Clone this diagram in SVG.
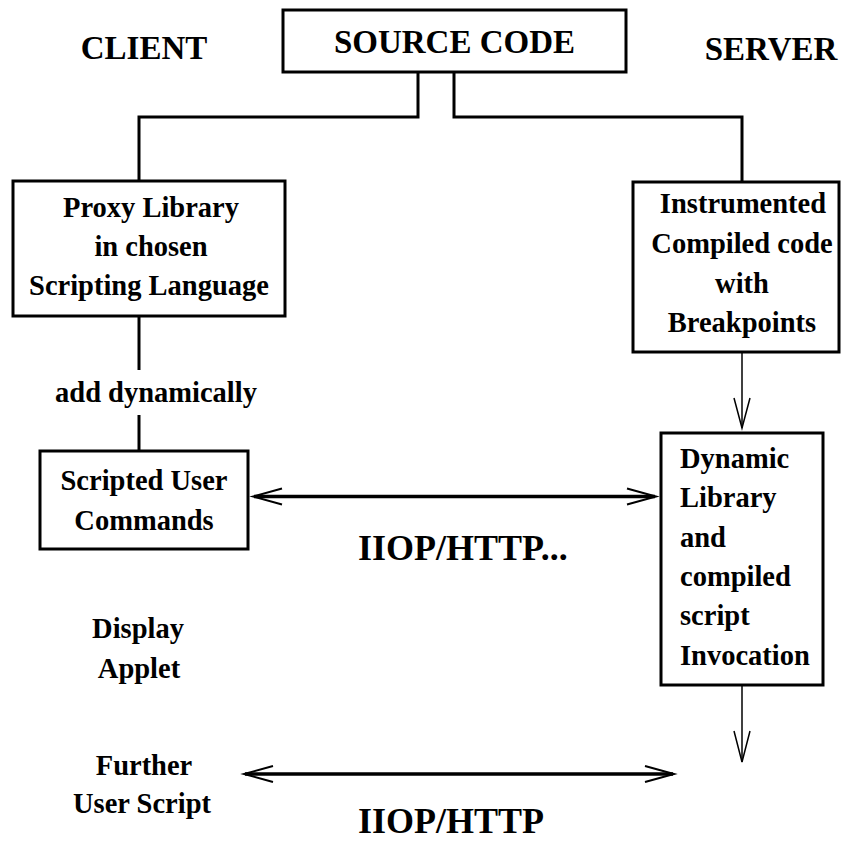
<svg xmlns="http://www.w3.org/2000/svg" width="841" height="841" viewBox="0 0 841 841">
<style>
text{font-family:"Liberation Serif","Times New Roman",serif;font-weight:bold;fill:#000}
.t{font-size:28.5px}
.c{text-anchor:middle}
.big{font-size:33px}
.proto{font-size:36px}
.box{fill:#fff;stroke:#000;stroke-width:3}
.wire{fill:none;stroke:#000;stroke-width:3}
.thin{fill:none;stroke:#000;stroke-width:1.5}
.dbl{fill:none;stroke:#000;stroke-width:3.5}
.head{fill:none;stroke:#000;stroke-width:2}
</style>
<rect width="841" height="841" fill="#fff"/>
<g id="connectors">
<path class="wire" d="M418,72 V117 H139 V181"/>
<path class="wire" d="M454,72 V117 H742 V182"/>
<path class="wire" d="M139,316 V370"/>
<path class="wire" d="M139,415 V451"/>
<path class="thin" d="M742,352 V428"/>
<path class="thin" d="M734,398 L742,428 L750,398"/>
<path class="thin" d="M742,685 V762"/>
<path class="thin" d="M734,731 L742,762 L750,731"/>
<path class="dbl" d="M254,496.5 H655"/>
<path class="head" d="M282,488.5 L253,496.5 L282,504.5"/>
<path class="head" d="M627,488.5 L656,496.5 L627,504.5"/>
<path class="dbl" d="M245,774 H673"/>
<path class="head" d="M273,766 L244,774 L273,782"/>
<path class="head" d="M645,766 L674,774 L645,782"/>
</g>
<g id="client-label"><text class="big" x="144" y="59" text-anchor="middle">CLIENT</text></g>
<g id="server-label"><text class="big" x="771" y="60" text-anchor="middle">SERVER</text></g>
<g id="source-code">
<rect class="box" x="283" y="10" width="343" height="62"/>
<text class="big c" x="454.5" y="53">SOURCE CODE</text>
</g>
<g id="proxy-library">
<rect class="box" x="13" y="181" width="272" height="135"/>
<text class="t c" x="151" y="217">Proxy Library</text>
<text class="t c" x="151" y="256">in chosen</text>
<text class="t c" x="149" y="295">Scripting Language</text>
</g>
<g id="add-dynamically"><text class="t c" x="156" y="402">add dynamically</text></g>
<g id="scripted-user">
<rect class="box" x="40" y="451" width="208" height="98"/>
<text class="t c" x="144" y="490">Scripted User</text>
<text class="t c" x="144" y="530">Commands</text>
</g>
<g id="instrumented">
<rect class="box" x="633" y="182" width="206" height="170"/>
<text class="t c" x="743" y="213">Instrumented</text>
<text class="t c" x="742" y="253">Compiled code</text>
<text class="t c" x="742" y="293">with</text>
<text class="t c" x="742" y="332">Breakpoints</text>
</g>
<g id="dynamic-library">
<rect class="box" x="661" y="433" width="162" height="252"/>
<text class="t" x="680" y="468">Dynamic</text>
<text class="t" x="680" y="507">Library</text>
<text class="t" x="680" y="547">and</text>
<text class="t" x="680" y="586">compiled</text>
<text class="t" x="680" y="625">script</text>
<text class="t" x="680" y="665">Invocation</text>
</g>
<g id="proto-1"><text class="proto" x="358" y="560">IIOP/HTTP...</text></g>
<g id="display-applet">
<text class="t c" x="138" y="638">Display</text>
<text class="t c" x="139" y="678">Applet</text>
</g>
<g id="further-script">
<text class="t c" x="144" y="775">Further</text>
<text class="t c" x="142" y="813">User Script</text>
</g>
<g id="proto-2"><text class="proto" x="358" y="833">IIOP/HTTP</text></g>
</svg>
